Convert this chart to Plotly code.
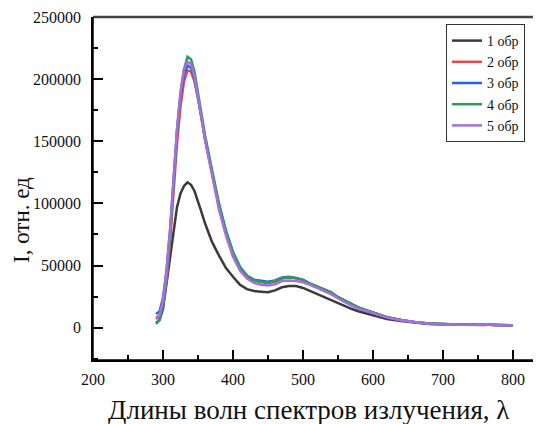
import plotly.graph_objects as go

wavelength = [290, 295, 300, 305, 310, 315, 320, 325, 330, 335, 340, 345, 350, 355, 360,
              370, 380, 390, 400, 410, 420, 430, 440, 450, 460, 470, 480, 490, 500, 510,
              520, 530, 540, 550, 560, 570, 580, 590, 600, 620, 640, 660, 680, 700, 720,
              740, 760, 765, 770, 780, 800]

s1 = [4000, 6000, 15000, 35000, 58000, 78000, 97000, 108000, 114000, 117000, 115000, 110000, 102000, 93000, 84000,
      69000, 58000, 48000, 41000, 34500, 31000, 29500, 29000, 28500, 30000, 32500, 33500, 33500, 32000, 29500,
      27500, 24500, 22000, 20000, 17500, 15000, 13000, 11500, 10500, 7000, 5300, 4000, 3000, 2500, 2300,
      2200, 2200, 2600, 2100, 1900, 1700]

s2 = [7000, 9000, 18000, 38000, 68000, 108000, 148000, 178000, 198000, 207000, 206000, 198000, 185000, 169000, 152000,
      125000, 98000, 77000, 60000, 48000, 41000, 38000, 36500, 36000, 37000, 39500, 40500, 40000, 38500, 35500,
      33000, 31000, 28500, 24500, 21500, 18500, 16000, 14000, 12000, 8500, 6200, 4400, 3300, 2700, 2500,
      2400, 2400, 2900, 2300, 2100, 1900]

s3 = [11000, 13000, 24000, 46000, 78000, 118000, 158000, 186000, 204000, 211000, 209000, 200000, 186000, 169000, 152000,
      125000, 98000, 77000, 60000, 48500, 41500, 38500, 37500, 37000, 38000, 40500, 41000, 40000, 38500, 35500,
      33000, 31000, 28500, 24500, 21500, 18500, 16000, 14000, 12000, 8500, 6200, 4400, 3300, 2700, 2500,
      2400, 2400, 2900, 2300, 2100, 1900]

s4 = [3000, 6000, 18000, 40000, 72000, 115000, 158000, 188000, 208000, 218000, 216000, 206000, 190000, 172000, 155000,
      127000, 100000, 78000, 61000, 49000, 42000, 38500, 37000, 36500, 37500, 40000, 40500, 40000, 38500, 35500,
      33000, 31000, 28500, 24500, 21500, 18500, 16000, 14000, 12000, 8500, 6200, 4400, 3300, 2700, 2500,
      2400, 2400, 2900, 2300, 2100, 1900]

s5 = [8000, 10000, 22000, 45000, 78000, 120000, 160000, 190000, 208000, 214000, 212000, 202000, 187000, 169000, 151000,
      122000, 95000, 74000, 57000, 46000, 39500, 36000, 34500, 34000, 35000, 37500, 38000, 37500, 36500, 34500,
      32000, 29500, 27000, 23500, 20500, 17500, 15200, 13300, 11500, 8200, 6000, 4300, 3200, 2600, 2400,
      2300, 2300, 3000, 2200, 2000, 1800]

series_names = ["1 обр", "2 обр", "3 обр", "4 обр", "5 обр"]
series_values = [s1, s2, s3, s4, s5]
colors = ["#3a3a3a", "#f24444", "#2266dd", "#2a9d5c", "#a86ee0"]

x_title = "Длины волн спектров излучения, λ"
y_title = "I, отн. ед"

FONT = "Liberation Serif"

fig = go.Figure()
for name, vals, col in zip(series_names, series_values, colors):
    fig.add_trace(go.Scatter(x=wavelength, y=vals, mode="lines", name=name,
                             line=dict(color=col, width=2.5)))

# page has an 8px body margin: figure coordinates = window coordinates - 8
OFF = 8
W, H = 541 - OFF, 424 - OFF
ml, mr, mt, mb = 93 - OFF, 0, 17 - OFF, H - (360 - OFF)
PW, PH = W - ml - mr, H - mt - mb


def px(xw):
    return (xw - OFF - ml) / PW


def py(yw):
    return (H - mb - (yw - OFF)) / PH


frame = [
    dict(type="line", xref="paper", yref="paper", x0=0, x1=1, y0=1, y1=1, layer="above",
         line=dict(color="#444444", width=2.5)),
    dict(type="line", xref="paper", yref="paper", x0=0, x1=0, y0=0, y1=1, layer="above",
         line=dict(color="#000000", width=1.5)),
    dict(type="line", xref="paper", yref="paper", x0=0, x1=1, y0=0, y1=0, layer="above",
         line=dict(color="#000000", width=1.5)),
]

fig.update_layout(
    width=W, height=H,
    margin=dict(l=ml, r=mr, t=mt, b=mb, pad=0, autoexpand=False),
    paper_bgcolor="white", plot_bgcolor="white",
    font=dict(family=FONT, color="#111", size=16),
    showlegend=True,
    legend=dict(x=px(446), y=py(24), xanchor="left", yanchor="top",
                bgcolor="white", bordercolor="#333", borderwidth=1,
                font=dict(family=FONT, size=14, color="#111"),
                tracegroupgap=0, itemwidth=30),
    xaxis=dict(range=[200, 840], tick0=200, dtick=100, showgrid=False, zeroline=False,
               automargin=False,
               showline=True, linecolor="black", linewidth=1.5,
               ticks="inside", ticklen=10, tickwidth=1.5, tickcolor="black",
               minor=dict(ticks="inside", ticklen=5, dtick=50, tickwidth=1.5, tickcolor="black"),
               tickfont=dict(family=FONT, size=16, color="#111"), ticklabelstandoff=4),
    yaxis=dict(range=[-26000, 250000], tick0=0, dtick=50000, showgrid=False, zeroline=False,
               automargin=False,
               showline=True, linecolor="black", linewidth=1.5,
               ticks="inside", ticklen=10, tickwidth=1.5, tickcolor="black",
               minor=dict(ticks="inside", ticklen=5, dtick=25000, tickwidth=1.5, tickcolor="black"),
               tickfont=dict(family=FONT, size=16, color="#111"), ticklabelstandoff=7,
               tickformat="d"),
    shapes=frame,
    annotations=[
        dict(text=y_title, textangle=-90, xref="paper", yref="paper",
             x=px(21), y=py(220), xanchor="center", yanchor="middle", showarrow=False,
             font=dict(family=FONT, size=23, color="#111")),
        dict(text=x_title, xref="paper", yref="paper",
             x=px(308), y=py(410), xanchor="center", yanchor="middle", showarrow=False,
             font=dict(family=FONT, size=27, color="#111")),
    ],
)

fig.write_html("out.html")
